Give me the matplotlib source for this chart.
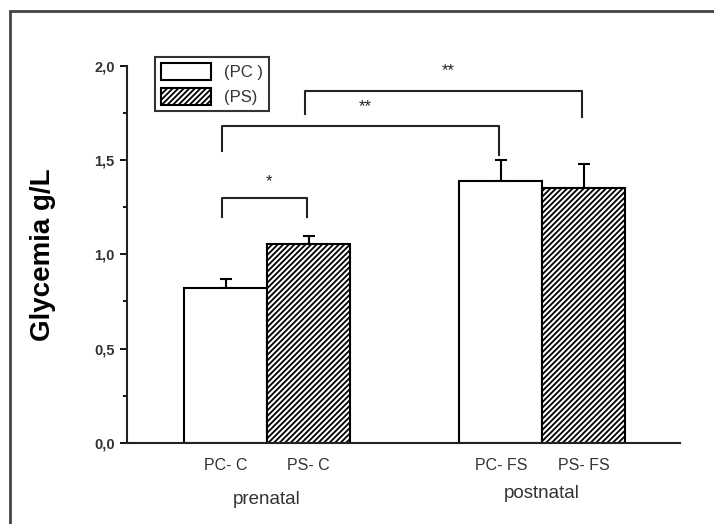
import matplotlib
matplotlib.use("Agg")
import matplotlib.pyplot as plt
from matplotlib.patches import Rectangle
import numpy as np

plt.rcParams['font.family'] = ['Liberation Sans', 'DejaVu Sans']
plt.rcParams['hatch.color'] = '#333333'
plt.rcParams['hatch.linewidth'] = 1.3

# data
labels = ['PC- C', 'PS- C', 'PC- FS', 'PS- FS']
groups = ['(PC )', '(PS)', '(PC)', '(PS)']
means = [0.82, 1.055, 1.39, 1.35]
errs = [0.05, 0.045, 0.11, 0.13]
period_names = ['prenatal', 'postnatal']

# significance brackets: (bar i, bar j, top, left leg end, right leg end, text)
brackets = [
    (0, 1, 1.30, 1.20, 1.20, '*'),
    (0, 2, 1.68, 1.55, 1.53, '**'),
    (1, 3, 1.87, 1.745, 1.73, '**'),
]
star_y = [1.385, 1.785, 1.975]

pos = np.array([1.0, 2.0, 4.32, 5.32])

fig = plt.figure(figsize=(7.14, 5.24), dpi=100)
ax = fig.add_axes([0.178, 0.155, 0.774, 0.719])

hatches = ['', '//////', '', '//////']
bars = []
for i in range(4):
    b = ax.bar(pos[i], means[i], width=1.0, color='white', edgecolor='black',
               linewidth=1.5, hatch=hatches[i], zorder=2)
    bars.append(b)
ax.errorbar(pos, means, yerr=[np.zeros(4), errs], fmt='none', ecolor='black',
            elinewidth=1.5, capsize=4, capthick=1.5, zorder=1)

for k, (i, j, top, yl, yr, txt) in enumerate(brackets):
    xi, xj = pos[i] - 0.04, pos[j] - 0.02
    ax.plot([xi, xi, xj, xj], [yl, top, top, yr], color='#222222', lw=1.5,
            clip_on=False)
    ax.text((xi + xj) / 2 + 0.05, star_y[k], txt, ha='center', va='center',
            fontsize=12, color='#222222')

ax.set_xlim(-0.19, 6.48)
ax.set_ylim(0, 2.0)
ax.set_yticks([0, 0.5, 1.0, 1.5, 2.0])
ax.set_yticklabels(['0,0', '0,5', '1,0', '1,5', '2,0'], fontweight='bold',
                   color='#333333', fontsize=10.5)
ax.set_yticks([0.25, 0.75, 1.25, 1.75], minor=True)
ax.tick_params(axis='y', which='major', direction='out', length=5, width=1.3,
               pad=4)
ax.tick_params(axis='y', which='minor', direction='out', length=3, width=1.3)
ax.set_xticks(pos)
ax.set_xticklabels(labels, fontsize=11.5, color='#333333')
ax.tick_params(axis='x', length=0, pad=11)

for s in ['top', 'right']:
    ax.spines[s].set_visible(False)
for s in ['left', 'bottom']:
    ax.spines[s].set_linewidth(1.5)
    ax.spines[s].set_color('#222222')

ax.set_ylabel('Glycemia g/L', fontsize=20, fontweight='bold', labelpad=27)

ax.text(1.5, -0.3, period_names[0], ha='center', va='center', fontsize=13.5,
        color='#333333', clip_on=False)
ax.text(4.82, -0.27, period_names[1], ha='center', va='center', fontsize=13.5,
        color='#333333', clip_on=False)

leg = ax.legend([bars[0], bars[1]], groups[:2], loc='upper left',
                bbox_to_anchor=(0.036, 1.045), frameon=True, fancybox=False,
                edgecolor='black', fontsize=12, handlelength=3.0,
                handleheight=1.2, borderpad=0.35, labelspacing=0.45,
                handletextpad=0.8)
leg.get_frame().set_linewidth(1.5)
for t in leg.get_texts():
    t.set_color('#333333')

# figure border
fig.patches.append(Rectangle((10 / 714, -0.1), 1.2, 1.1 - 11 / 524,
                             transform=fig.transFigure, fill=False,
                             edgecolor='#444444', linewidth=2))

fig.savefig('out.png', dpi=100)
